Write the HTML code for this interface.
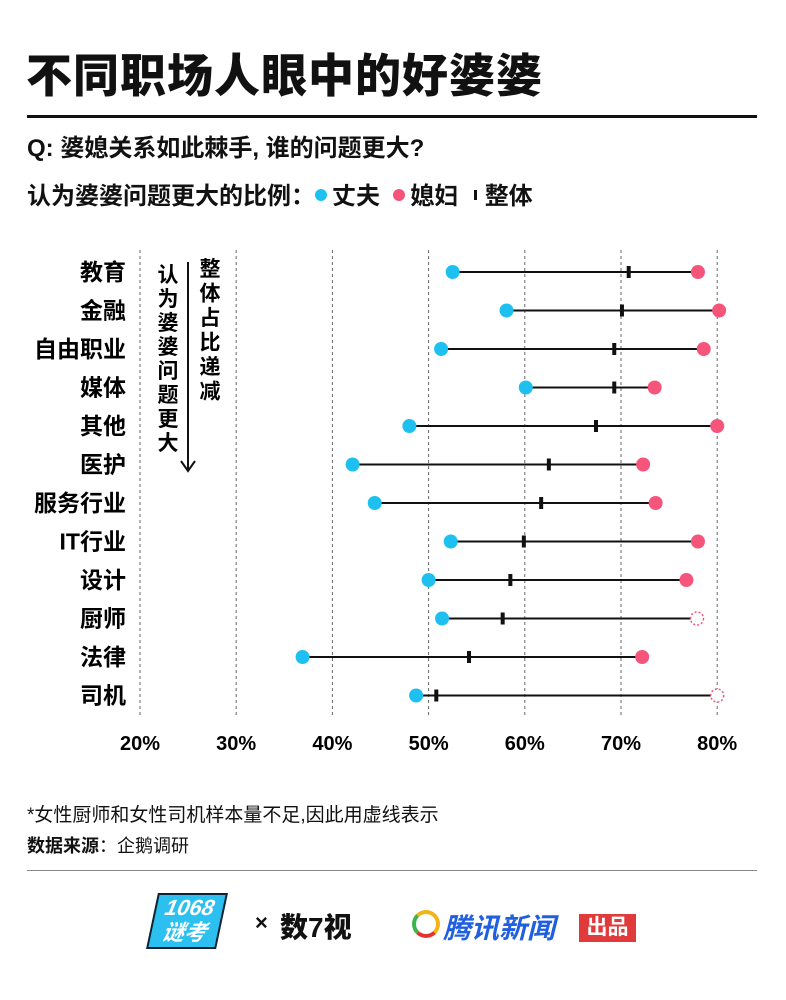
<!DOCTYPE html>
<html><head><meta charset="utf-8"><style>
body{margin:0;background:#fff;width:786px;height:1000px;overflow:hidden;font-family:"Liberation Sans","Noto Sans CJK SC",sans-serif;color:#111}
.t{position:absolute;font-weight:bold;white-space:nowrap}
</style></head><body>
<div class="t" style="left:26px;top:40px;font-size:46px;font-weight:900;letter-spacing:1px">不同职场人眼中的好婆婆</div>
<div style="position:absolute;left:27px;top:115px;width:730px;height:3px;background:#111"></div>
<div class="t" style="left:27px;top:128px;font-size:24px">Q: 婆媳关系如此棘手, 谁的问题更大?</div>
<div class="t" style="left:27px;top:176px;font-size:24px">认为婆婆问题更大的比例：<span><span style="display:inline-block;width:12px;height:12px;border-radius:50%;background:#1ec0f0;margin:0 5px 3px 0"></span>丈夫</span>&nbsp;&nbsp;<span><span style="display:inline-block;width:12px;height:12px;border-radius:50%;background:#f5557a;margin:0 5px 3px 0"></span>媳妇</span>&nbsp;&nbsp;<span><span style="display:inline-block;width:3px;height:10px;background:#111;margin:0 8px 4px 2px"></span>整体</span></div>
<svg id="chart" width="786" height="780" style="position:absolute;left:0;top:0"></svg>
<div class="t" style="left:27px;top:800px;font-size:19px;font-weight:normal">*女性厨师和女性司机样本量不足,因此用虚线表示</div>
<div class="t" style="left:27px;top:832px;font-size:18px">数据来源<span style="font-weight:normal">：企鹅调研</span></div>
<div style="position:absolute;left:27px;top:870px;width:730px;height:1px;background:#888"></div>
<div class="t" style="left:152px;top:893px;width:66px;height:52px;background:#2bc0f0;color:#fff;font-size:22px;font-style:italic;transform:skewX(-12deg);text-align:center;line-height:25px;border:2px solid #123">1068<br>谜考</div>
<div class="t" style="left:255px;top:910px;font-size:22px">×</div>
<div class="t" style="left:280px;top:906px;font-size:28px;font-weight:900">数7视</div>
<div style="position:absolute;left:412px;top:910px;width:28px;height:28px;border-radius:50%;border:4px solid #f2b417;border-left-color:#3bb54a;border-bottom-color:#e5322d;box-sizing:border-box"></div>
<div class="t" style="left:443px;top:907px;font-size:28px;color:#1f5fe0;font-style:italic">腾讯新闻</div>
<div class="t" style="left:579px;top:914px;width:57px;height:28px;background:#e03a3a;color:#fff;font-size:21px;text-align:center;line-height:28px">出品</div>
<script>
const categories=["教育","金融","自由职业","媒体","其他","医护","服务行业","IT行业","设计","厨师","法律","司机"];
const husband=[52.5,58.1,51.3,60.1,48.0,42.1,44.4,52.3,50.0,51.4,36.9,48.7];
const wife=[78.0,80.2,78.6,73.5,80.0,72.3,73.6,78.0,76.8,77.9,72.2,80.0];
const overall=[70.8,70.1,69.3,69.3,67.4,62.5,61.7,59.9,58.5,57.7,54.2,50.8];
const wifeDashed=[false,false,false,false,false,false,false,false,false,true,false,true];
const ticks=[20,30,40,50,60,70,80];
const NS="http://www.w3.org/2000/svg",svg=document.getElementById('chart');
const x=v=>140+(v-20)*9.62, y=i=>272+i*38.5;
function mk(t,a){const e=document.createElementNS(NS,t);for(const k in a)e.setAttribute(k,a[k]);svg.appendChild(e);return e;}
ticks.forEach(t=>{
 const g=mk('line',{x1:x(t),x2:x(t),y1:250,y2:718,stroke:'#666','stroke-width':1,'stroke-dasharray':'3,3'});
 
 
 const l=mk('text',{x:x(t),y:750,'text-anchor':'middle','font-size':20,'font-weight':'bold','font-family':'Liberation Sans, sans-serif'});
 l.textContent=t+'%';
 
 
});
categories.forEach((c,i)=>{
 const yy=y(i);
 const lb=mk('text',{x:126,y:yy+8,'text-anchor':'end','font-size':23,'font-weight':'bold','font-family':'Liberation Sans, Noto Sans CJK SC, sans-serif'});
 lb.textContent=c;
 
 
 const ln=mk('line',{x1:x(husband[i]),x2:x(wife[i]),y1:yy,y2:yy,stroke:'#111','stroke-width':2});
 
 
 const ov=mk('rect',{x:x(overall[i])-2,y:yy-6,width:4,height:12,fill:'#111'});
 
 
 const h=mk('circle',{cx:x(husband[i]),cy:yy,r:7,fill:'#1ec0f0'});
 
 
 const w=wifeDashed[i]?mk('circle',{cx:x(wife[i]),cy:yy,r:6.5,fill:'#fff',stroke:'#f5557a','stroke-width':1.5,'stroke-dasharray':'2,2'}):mk('circle',{cx:x(wife[i]),cy:yy,r:7,fill:'#f5557a'});
 
 
});
function vtext(str,cx,top,step,name){str.split('').forEach((ch,k)=>{const t=mk('text',{x:cx,y:top+k*step,'text-anchor':'middle','font-size':21,'font-weight':'bold','font-family':'Noto Sans CJK SC, sans-serif'});t.textContent=ch;
 
 });}
vtext('整体占比递减',210,276,24.5,'annotation-overall');
vtext('认为婆婆问题更大',168,282,24,'annotation-question');
const ar=mk('path',{d:'M188 262 V470 M181 461 L188 471 L195 461',stroke:'#111','stroke-width':2,fill:'none'});


</script>
</body></html>
